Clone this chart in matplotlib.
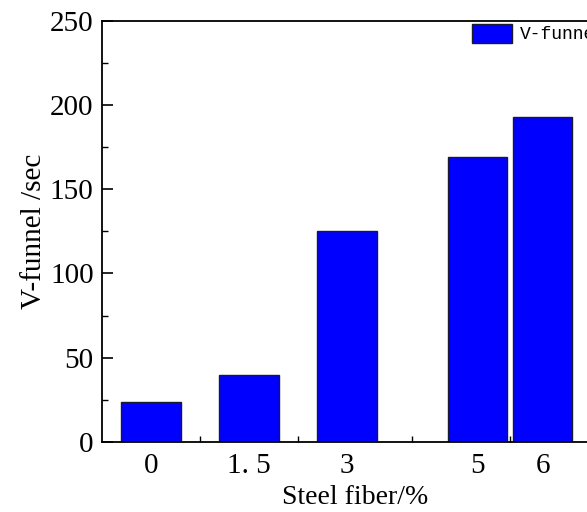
import numpy as np
import matplotlib.pyplot as plt
from matplotlib.ticker import MultipleLocator

# steel fiber content (%) and V-funnel time (sec)
fiber = [0, 1.5, 3, 5, 6]
fiber_labels = ["0", "1. 5", "3", "5", "6"]
vfunnel = [24, 40, 125, 169, 193]

plt.rcParams['font.family'] = ['Liberation Serif', 'DejaVu Serif']

fig = plt.figure(figsize=(5.87, 5.12), dpi=100)
ax = fig.add_axes([0.1738, 0.1367, 0.862, 0.8229])

ax.bar(fiber, vfunnel, width=0.91, color='#0000ff', edgecolor='#1a1a2e',
       linewidth=1.0, label="V-funnel", zorder=2)

ax.set_xlim(-0.75, 7.0)
ax.set_ylim(0, 250)
ax.set_xticks(fiber)
ax.set_xticklabels(fiber_labels)
ax.set_xticks([0.75, 2.25, 4, 5.5], minor=True)
ax.yaxis.set_major_locator(MultipleLocator(50))
ax.yaxis.set_minor_locator(MultipleLocator(25))

ax.tick_params(which='major', direction='in', length=8, width=1.2, labelsize=21, pad=6)
ax.tick_params(axis='x', which='major', pad=8)
ax.tick_params(which='minor', direction='in', length=4, width=1.0)
ax.tick_params(axis='x', which='both', top=False)
ax.tick_params(axis='y', which='both', right=False)
for s in ax.spines.values():
    s.set_linewidth(1.3)

ax.set_xlabel("Steel fiber/%", fontsize=20, labelpad=4)
ax.set_ylabel("V-funnel /sec", fontsize=21, labelpad=2)

ax.legend(loc='upper left', bbox_to_anchor=(472 / 587, 1 - 24 / 512),
          bbox_transform=fig.transFigure, frameon=False, borderpad=0,
          borderaxespad=0, handlelength=2.2, handleheight=1.2,
          handletextpad=0.45, prop={'family': 'Liberation Mono', 'size': 13})

fig.savefig("out.png", dpi=100)
